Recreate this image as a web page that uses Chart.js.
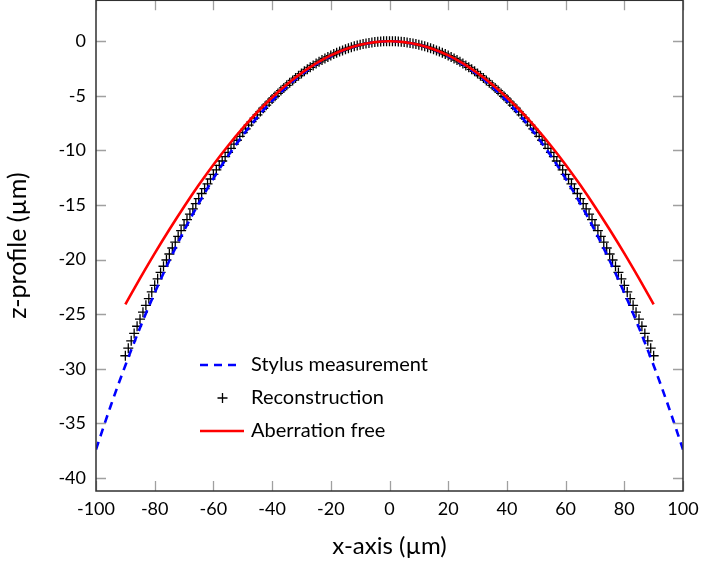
<!DOCTYPE html>
<html>
<head>
<meta charset="utf-8">
<title>z-profile</title>
<script src="https://cdn.jsdelivr.net/npm/chart.js@4.4.1/dist/chart.umd.min.js"></script>
<style>
  html, body { margin: 0; padding: 0; background: #fff; overflow: hidden; }
  #wrap { width: 703px; height: 563px; overflow: hidden; }
  #profileChart { display: block; margin-top: -6px; }
</style>
</head>
<body>
<div id="wrap"><canvas id="profileChart" width="703" height="569"></canvas></div>
<script>
// Stylus measurement (every 5 µm)
const xStylus = [-100, -95, -90, -85, -80, -75, -70, -65, -60, -55, -50, -45, -40, -35, -30, -25, -20, -15, -10, -5,
    0, 5, 10, 15, 20, 25, 30, 35, 40, 45, 50, 55, 60, 65, 70, 75, 80, 85, 90, 95, 100];
const zStylus = [-37.40, -33.41, -29.70, -26.25, -23.05, -20.09, -17.36, -14.86, -12.58, -10.50,
    -8.63, -6.95, -5.47, -4.17, -3.05, -2.11, -1.35, -0.76, -0.34, -0.08,
    0,
    -0.08, -0.34, -0.76, -1.35, -2.11, -3.05, -4.17, -5.47, -6.95, -8.63,
    -10.50, -12.58, -14.86, -17.36, -20.09, -23.05, -26.25, -29.70, -33.41, -37.40];

// Reconstruction (every 1 µm)
const xRecon = [
    -90, -89, -88, -87, -86, -85, -84, -83, -82, -81,
    -80, -79, -78, -77, -76, -75, -74, -73, -72, -71,
    -70, -69, -68, -67, -66, -65, -64, -63, -62, -61,
    -60, -59, -58, -57, -56, -55, -54, -53, -52, -51,
    -50, -49, -48, -47, -46, -45, -44, -43, -42, -41,
    -40, -39, -38, -37, -36, -35, -34, -33, -32, -31,
    -30, -29, -28, -27, -26, -25, -24, -23, -22, -21,
    -20, -19, -18, -17, -16, -15, -14, -13, -12, -11,
    -10, -9, -8, -7, -6, -5, -4, -3, -2, -1,
    0,
    1, 2, 3, 4, 5, 6, 7, 8, 9, 10,
    11, 12, 13, 14, 15, 16, 17, 18, 19, 20,
    21, 22, 23, 24, 25, 26, 27, 28, 29, 30,
    31, 32, 33, 34, 35, 36, 37, 38, 39, 40,
    41, 42, 43, 44, 45, 46, 47, 48, 49, 50,
    51, 52, 53, 54, 55, 56, 57, 58, 59, 60,
    61, 62, 63, 64, 65, 66, 67, 68, 69, 70,
    71, 72, 73, 74, 75, 76, 77, 78, 79, 80,
    81, 82, 83, 84, 85, 86, 87, 88, 89, 90];
const zRecon = [
    -28.81, -28.12, -27.44, -26.77, -26.11, -25.46, -24.82, -24.19, -23.57, -22.96,
    -22.36, -21.76, -21.18, -20.61, -20.04, -19.49, -18.94, -18.40, -17.87, -17.35,
    -16.84, -16.34, -15.84, -15.36, -14.88, -14.41, -13.95, -13.50, -13.06, -12.62,
    -12.20, -11.78, -11.37, -10.97, -10.57, -10.18, -9.81, -9.43, -9.07, -8.72,
    -8.37, -8.03, -7.69, -7.37, -7.05, -6.74, -6.44, -6.14, -5.86, -5.57,
    -5.30, -5.04, -4.78, -4.52, -4.28, -4.04, -3.81, -3.59, -3.37, -3.16,
    -2.96, -2.76, -2.57, -2.39, -2.22, -2.05, -1.89, -1.73, -1.58, -1.44,
    -1.31, -1.18, -1.06, -0.94, -0.84, -0.73, -0.64, -0.55, -0.47, -0.39,
    -0.33, -0.26, -0.21, -0.16, -0.12, -0.08, -0.05, -0.03, -0.01, 0.00,
    0,
    0.00, -0.01, -0.03, -0.05, -0.08, -0.12, -0.16, -0.21, -0.26, -0.33,
    -0.39, -0.47, -0.55, -0.64, -0.73, -0.84, -0.94, -1.06, -1.18, -1.31,
    -1.44, -1.58, -1.73, -1.89, -2.05, -2.22, -2.39, -2.57, -2.76, -2.96,
    -3.16, -3.37, -3.59, -3.81, -4.04, -4.28, -4.52, -4.78, -5.04, -5.30,
    -5.57, -5.86, -6.14, -6.44, -6.74, -7.05, -7.37, -7.69, -8.03, -8.37,
    -8.72, -9.07, -9.43, -9.81, -10.18, -10.57, -10.97, -11.37, -11.78, -12.20,
    -12.62, -13.06, -13.50, -13.95, -14.41, -14.88, -15.36, -15.84, -16.34, -16.84,
    -17.35, -17.87, -18.40, -18.94, -19.49, -20.04, -20.61, -21.18, -21.76, -22.36,
    -22.96, -23.57, -24.19, -24.82, -25.46, -26.11, -26.77, -27.44, -28.12, -28.81];

// Aberration free (every 5 µm)
const xIdeal = [-90, -85, -80, -75, -70, -65, -60, -55, -50, -45, -40, -35, -30, -25, -20, -15, -10, -5,
    0, 5, 10, 15, 20, 25, 30, 35, 40, 45, 50, 55, 60, 65, 70, 75, 80, 85, 90];
const zIdeal = [-24.10, -21.73, -19.44, -17.25, -15.16, -13.18, -11.31, -9.57, -7.96, -6.48,
    -5.15, -3.96, -2.92, -2.03, -1.30, -0.74, -0.33, -0.08,
    0,
    -0.08, -0.33, -0.74, -1.30, -2.03, -2.92, -3.96, -5.15, -6.48, -7.96,
    -9.57, -11.31, -13.18, -15.16, -17.25, -19.44, -21.73, -24.10];

const xTicks = [-100, -80, -60, -40, -20, 0, 20, 40, 60, 80, 100];
const zTicks = [-40, -35, -30, -25, -20, -15, -10, -5, 0];
const seriesNames = ['Stylus measurement', 'Reconstruction', 'Aberration free'];

const FONT = 'Lato, "Open Sans", sans-serif';
const SHIFT = 6; // canvas is pushed up by this much in CSS

function toPoints(xs, ys) {
    return xs.map((x, i) => ({ x: x, y: ys[i] }));
}

// frame and inward ticks on all four sides
const frameTicks = {
    id: 'frameTicks',
    afterDraw(chart) {
        const ctx = chart.ctx;
        const a = chart.chartArea;
        const sx = chart.scales.x, sy = chart.scales.y;
        const len = 10;
        ctx.save();
        ctx.strokeStyle = '#a0a0a0';
        ctx.lineWidth = 1.3;
        ctx.beginPath();
        xTicks.forEach(v => {
            const px = Math.round(sx.getPixelForValue(v)) + 0.5;
            ctx.moveTo(px, a.bottom); ctx.lineTo(px, a.bottom - len);
            ctx.moveTo(px, a.top); ctx.lineTo(px, a.top + len);
        });
        zTicks.forEach(v => {
            const py = Math.round(sy.getPixelForValue(v)) + 0.5;
            ctx.moveTo(a.left, py); ctx.lineTo(a.left + len, py);
            ctx.moveTo(a.right, py); ctx.lineTo(a.right - len, py);
        });
        ctx.stroke();
        ctx.strokeStyle = '#303030';
        ctx.lineWidth = 1.5;
        ctx.strokeRect(a.left, a.top, a.right - a.left, a.bottom - a.top);
        ctx.restore();
    }
};

// legend inside the plot
const innerLegend = {
    id: 'innerLegend',
    afterDraw(chart) {
        const ctx = chart.ctx;
        const x0 = 200, x1 = 242, tx = 251;
        const rows = [365 + SHIFT, 398 + SHIFT, 431 + SHIFT];
        const ds = chart.data.datasets;
        ctx.save();
        // dashed blue
        ctx.strokeStyle = ds[0].borderColor;
        ctx.lineWidth = ds[0].borderWidth;
        ctx.setLineDash(ds[0].borderDash);
        ctx.beginPath(); ctx.moveTo(x0, rows[0]); ctx.lineTo(x1, rows[0]); ctx.stroke();
        ctx.setLineDash([]);
        // cross
        const cx = 222.5, r = ds[1].pointRadius;
        ctx.strokeStyle = ds[1].pointBorderColor;
        ctx.lineWidth = ds[1].pointBorderWidth;
        ctx.beginPath();
        ctx.moveTo(cx - r, rows[1]); ctx.lineTo(cx + r, rows[1]);
        ctx.moveTo(cx, rows[1] - r); ctx.lineTo(cx, rows[1] + r);
        ctx.stroke();
        // red
        ctx.strokeStyle = ds[2].borderColor;
        ctx.lineWidth = ds[2].borderWidth;
        ctx.beginPath(); ctx.moveTo(x0, rows[2]); ctx.lineTo(x1 + 2, rows[2]); ctx.stroke();

        ctx.fillStyle = '#000';
        ctx.font = '20px ' + FONT;
        ctx.textBaseline = 'middle';
        ctx.textAlign = 'left';
        seriesNames.forEach((n, i) => ctx.fillText(n, tx, rows[i]));
        ctx.restore();
    }
};

const ctx = document.getElementById('profileChart').getContext('2d');
const profileChart = new Chart(ctx, {
    type: 'scatter',
    data: {
        datasets: [{
            label: seriesNames[0],
            data: toPoints(xStylus, zStylus),
            showLine: true,
            borderColor: '#0000ff',
            borderWidth: 2.6,
            borderDash: [8, 6],
            pointRadius: 0,
            cubicInterpolationMode: 'monotone',
            order: 1
        }, {
            label: seriesNames[1],
            data: toPoints(xRecon, zRecon),
            showLine: false,
            pointStyle: 'cross',
            pointRadius: 5,
            pointBorderColor: '#000',
            pointBorderWidth: 1.3,
            order: 2
        }, {
            label: seriesNames[2],
            data: toPoints(xIdeal, zIdeal),
            showLine: true,
            borderColor: '#ff0000',
            borderWidth: 2.6,
            pointRadius: 0,
            cubicInterpolationMode: 'monotone',
            order: 0
        }]
    },
    options: {
        responsive: false,
        animation: false,
        layout: { padding: { left: 0, right: 20, top: 0, bottom: 0 } },
        plugins: {
            legend: { display: false },
            tooltip: { enabled: false }
        },
        scales: {
            x: {
                type: 'linear',
                min: -100,
                max: 100,
                afterBuildTicks: s => { s.ticks = xTicks.map(v => ({ value: v })); },
                afterFit: s => { s.height = 72; s.paddingLeft = 0; s.paddingRight = 0; },
                grid: { display: false, drawTicks: false },
                border: { display: false },
                ticks: { color: '#000', font: { family: FONT, size: 18 }, padding: 7 },
                title: {
                    display: true,
                    text: 'x-axis (µm)',
                    color: '#000',
                    font: { family: FONT, size: 24 },
                    padding: { top: 0, bottom: 2 }
                }
            },
            y: {
                type: 'linear',
                min: -41.2,
                max: 3.75,
                afterBuildTicks: s => { s.ticks = zTicks.map(v => ({ value: v })); },
                afterFit: s => { s.width = 96; s.paddingTop = 0; s.paddingBottom = 0; },
                grid: { display: false, drawTicks: false },
                border: { display: false },
                ticks: { color: '#000', font: { family: FONT, size: 18 }, padding: 10 },
                title: {
                    display: true,
                    text: 'z-profile (µm)',
                    color: '#000',
                    font: { family: FONT, size: 25 },
                    padding: { top: 3, bottom: 0 }
                }
            }
        }
    },
    plugins: [frameTicks, innerLegend]
});
</script>
</body>
</html>
